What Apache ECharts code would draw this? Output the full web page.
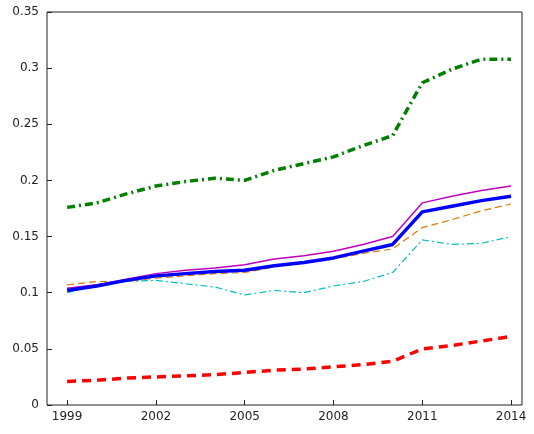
<!DOCTYPE html>
<html><head><meta charset="utf-8">
<script src="https://cdn.jsdelivr.net/npm/echarts@6/dist/echarts.min.js"></script>
<style>html,body{margin:0;background:#fff}#c{width:534px;height:434px}</style>
</head><body><div id="c"></div>
<script>
const years = [1999,2000,2001,2002,2003,2004,2005,2006,2007,2008,2009,2010,2011,2012,2013,2014];
const xTicks = [1999,2002,2005,2008,2011,2014];
const green = [0.176,0.180,0.188,0.195,0.199,0.202,0.200,0.209,0.215,0.221,0.231,0.240,0.287,0.299,0.308,0.308];
const red = [0.021,0.022,0.024,0.025,0.026,0.027,0.029,0.031,0.032,0.034,0.036,0.039,0.050,0.053,0.057,0.061];
const blue = [0.102,0.106,0.111,0.115,0.117,0.119,0.120,0.124,0.127,0.131,0.137,0.143,0.172,0.177,0.182,0.186];
const magenta = [0.104,0.107,0.112,0.117,0.120,0.122,0.125,0.130,0.133,0.137,0.143,0.150,0.180,0.186,0.191,0.195];
const orange = [0.107,0.110,0.110,0.113,0.115,0.117,0.118,0.123,0.127,0.130,0.135,0.139,0.158,0.165,0.173,0.179];
const cyan = [0.100,0.107,0.110,0.111,0.108,0.105,0.098,0.102,0.100,0.106,0.110,0.118,0.147,0.143,0.144,0.150];

const pair = arr => arr.map((v, i) => [years[i], v]);
const line = (name, data, color, width, type) => ({
  name, type: 'line', data: pair(data), showSymbol: false, silent: true,
  lineStyle: { color, width, type }
});

const chart = echarts.init(document.getElementById('c'));
chart.setOption({
  animation: false,
  grid: { left: 47, right: 12, top: 12, bottom: 29, show: true, borderColor: '#222', borderWidth: 1 },
  xAxis: {
    type: 'value', min: 1998.32, max: 2014.37,
    axisLine: { show: false }, splitLine: { show: false },
    axisTick: { inside: true, length: 5, lineStyle: { color: '#222' }, customValues: xTicks },
    axisLabel: { color: '#222', fontSize: 12, fontFamily: 'DejaVu Sans', customValues: xTicks, margin: 6,
      formatter: v => String(Math.round(v)) }
  },
  yAxis: {
    type: 'value', min: 0, max: 0.35, interval: 0.05,
    axisLine: { show: false }, splitLine: { show: false },
    axisTick: { show: true, inside: true, length: 5, lineStyle: { color: '#222' } },
    axisLabel: { color: '#222', fontSize: 12, fontFamily: 'DejaVu Sans', margin: 8 }
  },
  series: [
    line('green', green, '#007f00', 3.5, [8, 4, 2, 4]),
    line('red', red, '#ff0000', 3.5, [9, 6]),
    line('cyan', cyan, '#00bfbf', 1.2, [7, 3, 2, 3]),
    line('orange', orange, '#e07800', 1.2, [7, 4]),
    line('magenta', magenta, '#bf00bf', 1.5, 'solid'),
    line('blue', blue, '#0000ff', 3.5, 'solid')
  ]
});
</script></body></html>
